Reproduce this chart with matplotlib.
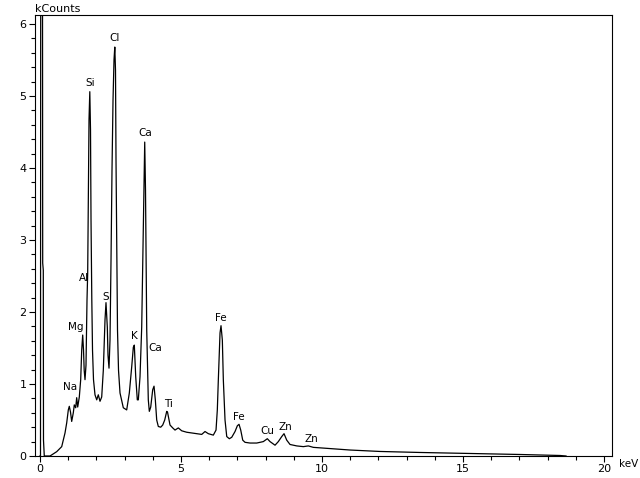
#!/usr/bin/env python
"""EDS spectrum (kCounts vs keV) with element peak labels."""
import matplotlib
matplotlib.use("Agg")
import matplotlib.pyplot as plt
from matplotlib.ticker import MultipleLocator

# spectrum trace (keV, kCounts); zero peak runs off the top
energy = [0.0, 0.018, 0.025, 0.089, 0.096, 0.117, 0.124, 0.152, 0.355, 0.592, 0.770, 0.826, 0.887,
          0.947, 1.004, 1.039, 1.082, 1.124, 1.181, 1.216, 1.266, 1.301, 1.337, 1.394, 1.443, 1.479,
          1.514, 1.543, 1.567, 1.596, 1.631, 1.667, 1.691, 1.713, 1.738, 1.766, 1.791, 1.809, 1.837,
          1.862, 1.897, 1.950, 2.011, 2.067, 2.128, 2.188, 2.245, 2.305, 2.340, 2.387, 2.411, 2.447,
          2.482, 2.518, 2.553, 2.589, 2.624, 2.652, 2.677, 2.695, 2.720, 2.748, 2.784, 2.837, 2.954,
          3.074, 3.167, 3.252, 3.309, 3.344, 3.394, 3.450, 3.486, 3.546, 3.606, 3.663, 3.699, 3.713,
          3.741, 3.784, 3.840, 3.876, 3.926, 3.996, 4.043, 4.089, 4.138, 4.195, 4.280, 4.351, 4.422,
          4.493, 4.521, 4.550, 4.610, 4.706, 4.787, 4.904, 5.025, 5.202, 5.379, 5.557, 5.734, 5.851,
          5.968, 6.145, 6.241, 6.287, 6.323, 6.383, 6.418, 6.465, 6.500, 6.560, 6.621, 6.713, 6.798,
          6.915, 6.997, 7.057, 7.117, 7.188, 7.270, 7.447, 7.684, 7.918, 8.060, 8.156, 8.333, 8.450,
          8.571, 8.652, 8.748, 8.865, 9.103, 9.337, 9.514, 9.691, 10.046, 10.401, 10.993, 12.057,
          13.475, 15.248, 17.021, 18.440, 18.65]
kcounts = [0.0, 0.0, 6.5, 6.5, 2.68, 2.58, 0.22, 0.0, 0.0, 0.06, 0.13, 0.22, 0.32,
           0.46, 0.64, 0.69, 0.61, 0.48, 0.60, 0.71, 0.67, 0.81, 0.68, 0.82, 1.06, 1.47,
           1.68, 1.47, 1.19, 1.06, 1.26, 2.17, 2.54, 3.56, 4.67, 5.06, 4.53, 3.28, 2.17,
           1.47, 1.06, 0.85, 0.78, 0.85, 0.76, 0.82, 1.19, 1.89, 2.13, 1.79, 1.40, 1.22,
           1.61, 2.72, 3.97, 4.94, 5.50, 5.68, 5.36, 4.11, 3.00, 1.75, 1.19, 0.875, 0.67,
           0.64, 0.875, 1.24, 1.51, 1.54, 1.10, 0.78, 0.78, 1.10, 1.79, 3.18, 3.97, 4.36,
           3.69, 1.75, 0.78, 0.62, 0.68, 0.92, 0.97, 0.78, 0.50, 0.41, 0.40, 0.43, 0.50,
           0.62, 0.61, 0.55, 0.43, 0.39, 0.36, 0.39, 0.35, 0.33, 0.32, 0.31, 0.30, 0.34,
           0.31, 0.29, 0.36, 0.64, 1.06, 1.71, 1.81, 1.61, 1.06, 0.50, 0.27, 0.24, 0.26,
           0.34, 0.42, 0.44, 0.36, 0.22, 0.19, 0.18, 0.18, 0.20, 0.24, 0.20, 0.15, 0.20,
           0.27, 0.31, 0.22, 0.16, 0.14, 0.13, 0.14, 0.12, 0.11, 0.10, 0.083, 0.063,
           0.049, 0.035, 0.021, 0.007, 0.0]

# element labels: name, energy (keV), height (kCounts) of label centre
el_names = ["Na", "Mg", "Al", "Si", "S", "Cl", "K", "Ca", "Ca", "Ti", "Fe", "Fe", "Cu", "Zn", "Zn"]
el_keV = [1.06, 1.28, 1.56, 1.77, 2.34, 2.66, 3.33, 3.72, 4.08, 4.57, 6.42, 7.06, 8.05, 8.69, 9.61]
el_kc = [0.96, 1.79, 2.47, 5.18, 2.21, 5.81, 1.67, 4.49, 1.50, 0.72, 1.92, 0.54, 0.35, 0.40, 0.24]

fig = plt.figure(figsize=(6.4, 4.78), dpi=100)
ax = fig.add_axes([35/640, 1 - 456/478, 577/640, 441/478])
ax.plot(energy, kcounts, color="black", lw=0.9)
for n, e, c in zip(el_names, el_keV, el_kc):
    ax.text(e, c, n, ha="center", va="center", fontsize=7.5)

ax.set_xlim(-0.177, 20.28); ax.set_ylim(0, 6.125)
ax.xaxis.set_major_locator(MultipleLocator(5)); ax.xaxis.set_minor_locator(MultipleLocator(1))
ax.yaxis.set_major_locator(MultipleLocator(1)); ax.yaxis.set_minor_locator(MultipleLocator(0.2))
ax.tick_params(which="both", direction="out", length=4, width=0.8, labelsize=8, pad=2)
ax.tick_params(which="minor", length=3)
for s in ax.spines.values():
    s.set_linewidth(0.8)
ax.text(0, 1.003, "kCounts", transform=ax.transAxes, ha="left", va="bottom", fontsize=8)
ax.text(1.0125, -0.019, "keV", transform=ax.transAxes, ha="left", va="center", fontsize=7.5)

fig.savefig("out.png", dpi=100)
